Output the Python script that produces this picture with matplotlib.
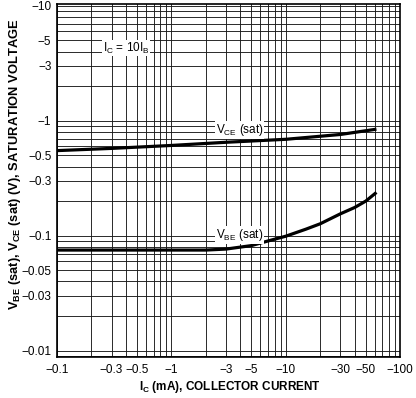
import matplotlib
matplotlib.use("Agg")
import matplotlib.pyplot as plt
from matplotlib.ticker import FixedLocator, LogLocator, NullFormatter

plt.rcParams['font.family'] = ['Liberation Sans', 'DejaVu Sans']
plt.rcParams['mathtext.fontset'] = 'custom'
plt.rcParams['mathtext.rm'] = 'Liberation Sans'
plt.rcParams['mathtext.bf'] = 'Liberation Sans:bold'

# collector current magnitude (mA) and saturation voltages (V), all negative in the chart
ic_vce = [0.1, 0.3, 1, 3, 10, 30, 62]
vce_sat = [0.55, 0.575, 0.61, 0.65, 0.69, 0.76, 0.845]

ic_vbe = [0.1, 0.5, 1, 2, 3, 5, 7, 10, 15, 20, 30, 40, 50, 62]
vbe_sat = [0.075, 0.075, 0.075, 0.075, 0.0765, 0.082, 0.09, 0.099, 0.114,
           0.127, 0.155, 0.176, 0.2, 0.238]

x_ticks = [0.1, 0.3, 0.5, 1, 3, 5, 10, 30, 50, 100]
x_labels = ['\u22120.1', '\u22120.3', '\u22120.5', '\u22121', '\u22123', '\u22125',
            '\u221210', '\u221230', '\u221250', '\u2212100']
y_ticks = [0.01, 0.03, 0.05, 0.1, 0.3, 0.5, 1, 3, 5, 10]
y_labels = ['\u22120.01', '\u22120.03', '\u22120.05', '\u22120.1', '\u22120.3',
            '\u22120.5', '\u22121', '\u22123', '\u22125', '\u221210']


def draw():
    fig = plt.figure(figsize=(4.16, 3.98), dpi=100)
    ax = fig.add_axes([0.137, 0.103, 0.825, 0.886])
    ax.set_xscale('log')
    ax.set_yscale('log')
    ax.set_xlim(0.1, 100)
    ax.set_ylim(0.0088, 10.3)

    ax.xaxis.set_major_locator(FixedLocator(x_ticks))
    ax.set_xticklabels(x_labels)
    ax.yaxis.set_major_locator(FixedLocator(y_ticks))
    ax.set_yticklabels(y_labels)
    ax.xaxis.set_minor_locator(LogLocator(base=10, subs=range(1, 10)))
    ax.yaxis.set_minor_locator(LogLocator(base=10, subs=range(1, 10)))
    ax.xaxis.set_minor_formatter(NullFormatter())
    ax.yaxis.set_minor_formatter(NullFormatter())
    ax.tick_params(which='both', length=0, labelsize=8.5)
    ax.tick_params(axis='x', pad=5)
    ax.tick_params(axis='y', pad=4)

    ax.grid(which='both', color='0.1', linewidth=0.65)
    for s in ax.spines.values():
        s.set_linewidth(1.2)

    ax.plot(ic_vce, vce_sat, color='black', linewidth=2.3, solid_capstyle='butt')
    ax.plot(ic_vbe, vbe_sat, color='black', linewidth=2.3, solid_capstyle='butt')

    box = dict(facecolor='white', edgecolor='none', pad=0.5)
    ax.text(0.25, 4.3, r'I$_{\mathrm{C}}$ = 10I$_{\mathrm{B}}$', fontsize=8.5,
            va='center', ha='left', bbox=box)
    ax.text(2.45, 0.83, r'V$_{\mathrm{CE}}$ (sat)', fontsize=8.5,
            va='center', ha='left', bbox=box)
    ax.text(2.45, 0.101, r'V$_{\mathrm{BE}}$ (sat)', fontsize=8.5,
            va='center', ha='left', bbox=box)

    fig.text(230 / 416, 1 - 387 / 398,
             r'I$_{\mathbf{C}}$ (mA), COLLECTOR CURRENT',
             fontsize=8.5, fontweight='bold', ha='center', va='center')
    fig.text(15 / 416, 1 - 164 / 398,
             r'V$_{\mathbf{BE}}$ (sat), V$_{\mathbf{CE}}$ (sat) (V), SATURATION VOLTAGE',
             fontsize=9.3, fontweight='bold', ha='center', va='center', rotation=90)

    fig.savefig('out.png', dpi=100)


if __name__ == '__main__':
    draw()
